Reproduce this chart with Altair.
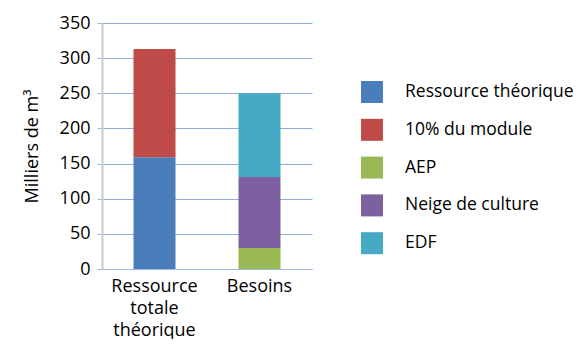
import altair as alt
import pandas as pd

categories = ["Ressource totale théorique", "Ressource totale théorique", "Besoins", "Besoins", "Besoins"]
series = ["Ressource théorique", "10% du module", "AEP", "Neige de culture", "EDF"]
values = [159, 154, 30, 101, 119]
stack_order = [1, 2, 1, 2, 3]
colors = ["#4A7EBB", "#BE4B48", "#98B954", "#7D60A0", "#46AAC5"]
x_order = ["Ressource totale théorique", "Besoins"]

df = pd.DataFrame({"cat": categories, "serie": series, "val": values, "ord": stack_order})

FONT = "Open Sans"
FS = 18

chart = alt.Chart(df).mark_bar().encode(
    x=alt.X("cat:N", sort=x_order,
            scale=alt.Scale(paddingInner=0.6, paddingOuter=0.3),
            axis=alt.Axis(title=None, labelAngle=0, domain=True, domainColor="#9DB9DE",
                          ticks=False, labelPadding=8, labelFontSize=FS, labelFont=FONT,
                          labelColor="#000000", labelLineHeight=22,
                          labelExpr="datum.value == 'Ressource totale théorique' ? ['Ressource','totale','théorique'] : datum.label")),
    y=alt.Y("val:Q", stack="zero",
            scale=alt.Scale(domain=[0, 350], nice=False),
            axis=alt.Axis(title="Milliers de m³", values=[0, 50, 100, 150, 200, 250, 300, 350],
                          grid=True, gridColor="#8EADD9", gridWidth=1,
                          domainColor="#C8C8C8", domainWidth=2,
                          tickColor="#A9B7C9", tickSize=5, labelPadding=7,
                          labelFontSize=FS, labelFont=FONT, labelColor="#000000",
                          titleFont=FONT, titleFontSize=FS, titleFontWeight="normal",
                          titleColor="#000000", titlePadding=18)),
    color=alt.Color("serie:N", sort=series,
                    scale=alt.Scale(domain=series, range=colors),
                    legend=alt.Legend(title=None, orient="none", legendX=259, legendY=58,
                                      symbolType="square", symbolSize=484, symbolStrokeWidth=0,
                                      labelFontSize=17.5, labelFont=FONT, labelColor="#000000",
                                      labelOffset=22, rowPadding=15.8, labelLimit=300)),
    order=alt.Order("ord:Q", sort="ascending"),
).properties(
    width=210, height=246,
    autosize=alt.AutoSizeParams(type="none"),
    padding={"left": 94, "top": 15, "right": 262, "bottom": 70},
).configure_view(stroke=None)

chart.save("out.html", embed_options={"renderer": "svg", "actions": False})
